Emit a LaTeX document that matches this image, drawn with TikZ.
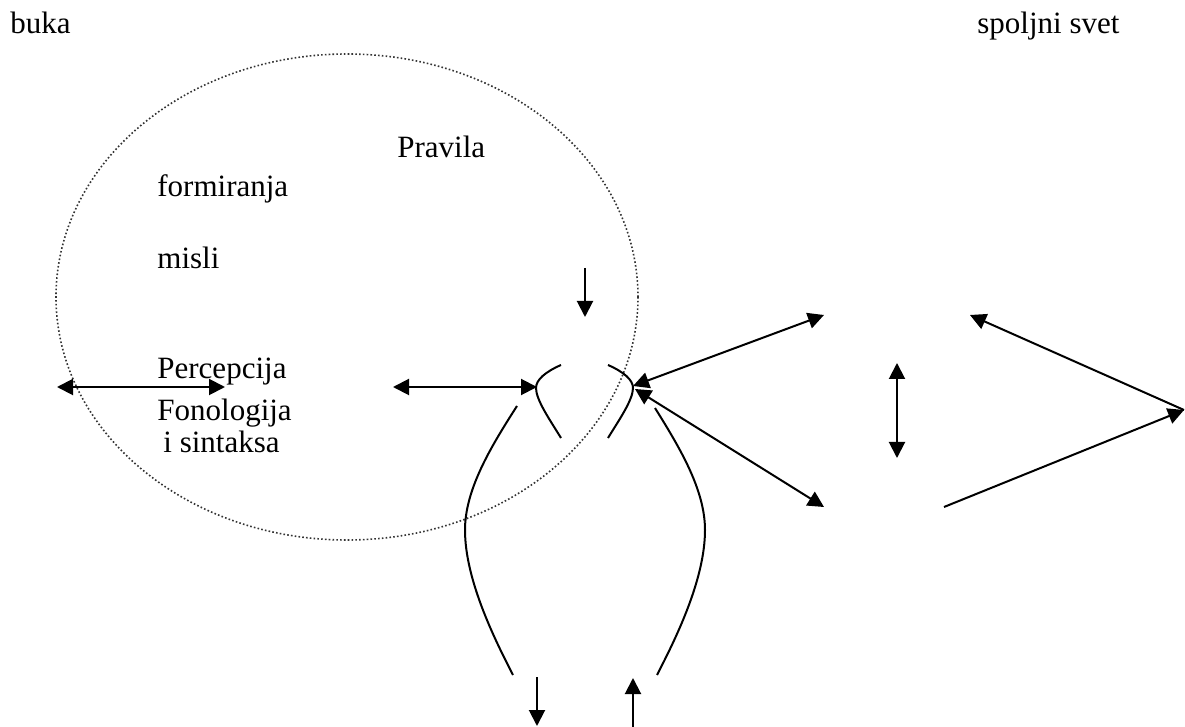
\documentclass[tikz,border=0pt]{standalone}
\usepackage{fontspec}
\setmainfont{Liberation Serif}
\usetikzlibrary{arrows.meta}
\begin{document}
\begin{tikzpicture}[x=0.5pt,y=-0.5pt,
  label text/.style={anchor=base west,inner sep=0pt,font=\fontsize{15.5pt}{18pt}\selectfont},
  conn/.style={line width=1pt,black},
  tip/.style={-{Triangle[length=8pt,width=8pt]}},
  tips/.style={{Triangle[length=8pt,width=8pt]}-{Triangle[length=8pt,width=8pt]}},
  bound/.style={line width=0.8pt,black!80,dash pattern=on 0.8pt off 1.1pt}]
\useasboundingbox (0,0) rectangle (1185,727);

% the mind: dotted ellipse
\draw[bound] (347,297) ellipse [x radius=291, y radius=243];

% labels
\node[label text] (buka) at (10,34) {buka};
\node[label text] (svet) at (977,34) {spoljni svet};
\node[label text] (pravila) at (397,158) {Pravila};
\node[label text] (form) at (157,197) {formiranja};
\node[label text] (misli) at (157,269) {misli};
\node[label text] (perc) at (157,379) {Percepcija};
\node[label text] (fono) at (157,421) {Fonologija};
\node[label text] (sint) at (163,453) {i sintaksa};

% end points of the connectors
\coordinate (nL) at (57,387);
\coordinate (nR) at (225,387);
\coordinate (cL) at (393,387);
\coordinate (cR) at (537,387);
\coordinate (dT) at (585,268);
\coordinate (dB) at (585,317);
\coordinate (mA) at (633,386);
\coordinate (mB) at (635,389);
\coordinate (uR) at (824,315);
\coordinate (lR) at (824,507);
\coordinate (vT) at (897,363);
\coordinate (vB) at (897,458);
\coordinate (apex) at (1184,410);
\coordinate (rT) at (970,315);
\coordinate (rB) at (944,507);
\coordinate (bD1) at (537,677);
\coordinate (bD2) at (537,726);
\coordinate (bU1) at (633,727);
\coordinate (bU2) at (633,678);

% arrows
\draw[conn,tips] (nL) -- (nR);
\draw[conn,tips] (cL) -- (cR);
\draw[conn,tip] (dT) -- (dB);
\draw[conn,tips] (mA) -- (uR);
\draw[conn,tips] (mB) -- (lR);
\draw[conn,tips] (vT) -- (vB);
\draw[conn,tip] (rB) -- (apex);
\draw[conn,tip] (apex) -- (rT);
\draw[conn,tip] (bD1) -- (bD2);
\draw[conn,tip] (bU1) -- (bU2);

% inner curved brackets
\draw[conn] (561,365) .. controls (545,372) and (536,380) .. (536,388)
  .. controls (536,400) and (550,420) .. (561,438);
\draw[conn] (608,365) .. controls (624,372) and (633,380) .. (633,388)
  .. controls (633,400) and (619,420) .. (608,438);

% outer curved lines
\draw[conn] (517,406) .. controls (490,448) and (465,490) .. (465,530)
  .. controls (465,580) and (495,640) .. (513,675);
\draw[conn] (655,408) .. controls (680,448) and (705,490) .. (705,530)
  .. controls (705,580) and (675,640) .. (657,675);
\end{tikzpicture}
\end{document}
